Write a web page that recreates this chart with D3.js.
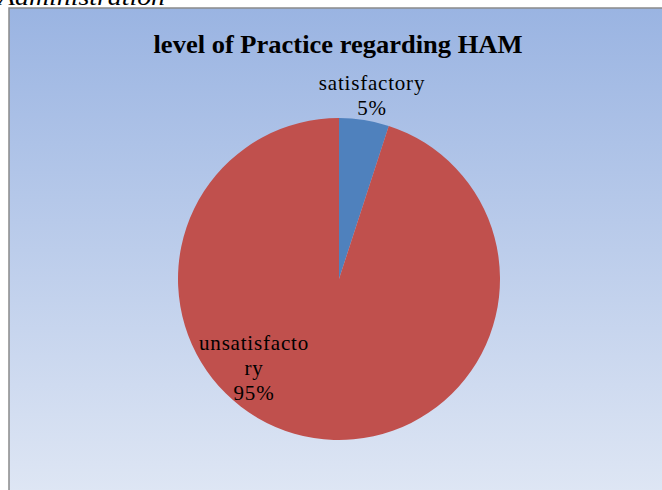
<!DOCTYPE html>
<html>
<head>
<meta charset="utf-8">
<script src="https://cdn.jsdelivr.net/npm/d3@7"></script>
<style>
  html, body { margin: 0; padding: 0; background: #fff; }
  svg { display: block; }
</style>
</head>
<body>
<script>
// Chart data
const categories = ["satisfactory", "unsatisfactory"];
const percentages = [5, 95];
const labelLines = [["satisfactory"], ["unsatisfacto", "ry"]];
const sliceColors = ["#4F81BD", "#C0504D"];
const chartTitle = "level of Practice regarding HAM";
const headingAbove = "Administration";

const W = 662, H = 490;
const svg = d3.select("body").append("svg").attr("width", W).attr("height", H);

const defs = svg.append("defs");
const grad = defs.append("linearGradient").attr("id", "bg").attr("x1", 0).attr("y1", 0).attr("x2", 0).attr("y2", 1);
grad.append("stop").attr("offset", "0%").attr("stop-color", "#9AB4E2");
grad.append("stop").attr("offset", "100%").attr("stop-color", "#DEE6F4");

// Document heading partially visible above the chart frame
svg.append("text")
  .attr("x", -2).attr("y", 5)
  .attr("font-family", "Liberation Serif, serif")
  .attr("font-style", "italic")
  .attr("font-size", 24)
  .attr("textLength", 167)
  .attr("lengthAdjust", "spacingAndGlyphs")
  .attr("fill", "#000")
  .text(headingAbove);

// Chart frame
const frame = { x: 9, y: 8, w: W - 9 + 2, h: H - 8 + 2 };
svg.append("rect")
  .attr("x", frame.x).attr("y", frame.y)
  .attr("width", frame.w).attr("height", frame.h)
  .attr("fill", "url(#bg)")
  .attr("stroke", "#8a8a8a").attr("stroke-width", 1.5);

// Title
svg.append("text")
  .attr("x", 338).attr("y", 53)
  .attr("text-anchor", "middle")
  .attr("font-family", "Liberation Serif, serif")
  .attr("font-weight", "bold")
  .attr("font-size", 26)
  .attr("textLength", 369)
  .attr("lengthAdjust", "spacingAndGlyphs")
  .attr("fill", "#000")
  .text(chartTitle);

// Pie
const cx = 339, cy = 279, r = 161;
const pie = d3.pie().sort(null).value(d => d)(percentages);
const arc = d3.arc().innerRadius(0).outerRadius(r);
const g = svg.append("g").attr("transform", `translate(${cx},${cy})`);
g.selectAll("path").data(pie).join("path")
  .attr("d", arc)
  .attr("fill", (d, i) => sliceColors[i]);

// Data labels
const labelPos = [[372, 90], [254, 350]];
const lineH = 25;
percentages.forEach((v, i) => {
  const lines = labelLines[i].concat([v + "%"]);
  const t = svg.append("text")
    .attr("text-anchor", "middle")
    .attr("font-family", "Liberation Serif, serif")
    .attr("font-size", 21)
    .attr("letter-spacing", 0.8)
    .attr("fill", "#000");
  lines.forEach((ln, k) => {
    t.append("tspan").attr("x", labelPos[i][0]).attr("y", labelPos[i][1] + k * lineH).text(ln);
  });
});
</script>
</body>
</html>
